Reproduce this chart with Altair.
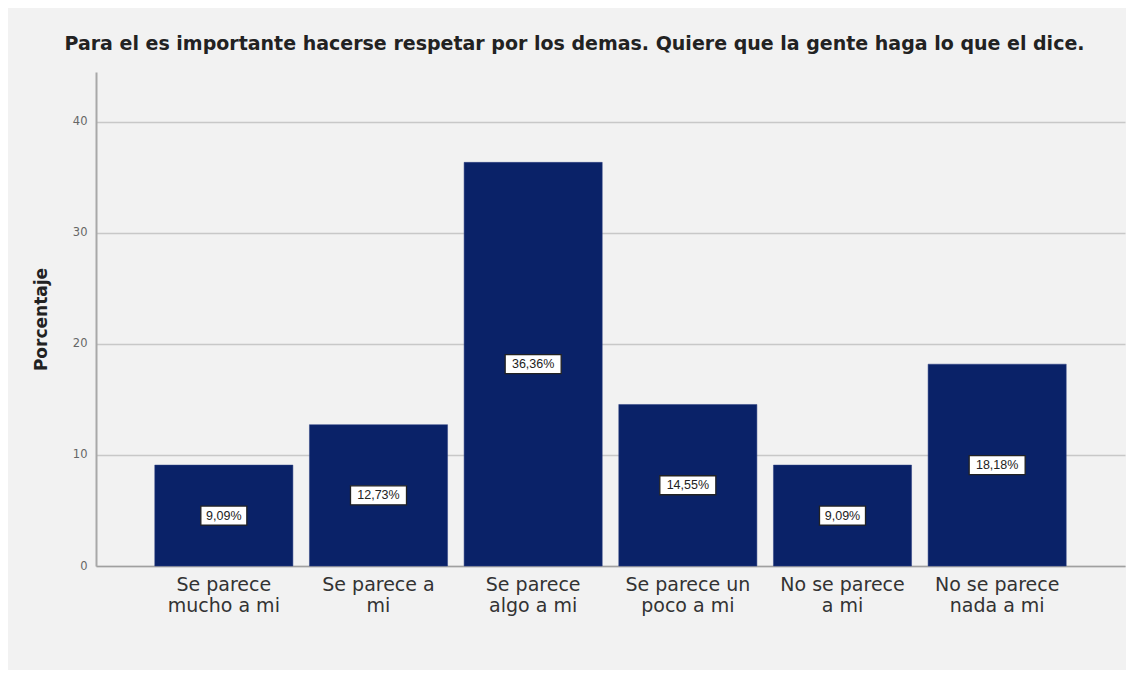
import altair as alt
import pandas as pd

categories = [
    "Se parece\nmucho a mi",
    "Se parece a\nmi",
    "Se parece\nalgo a mi",
    "Se parece un\npoco a mi",
    "No se parece\na mi",
    "No se parece\nnada a mi",
]
percentages = [9.09, 12.73, 36.36, 14.55, 9.09, 18.18]
labels = ["9,09%", "12,73%", "36,36%", "14,55%", "9,09%", "18,18%"]
y_ticks = [0, 10, 20, 30, 40]

title_text = "Para el es importante hacerse respetar por los demas. Quiere que la gente haga lo que el dice."

df = pd.DataFrame({"cat": categories, "pct": percentages, "lab": labels})

x_enc = alt.X(
    "cat:N",
    sort=categories,
    scale=alt.Scale(paddingInner=0.107, paddingOuter=0.38),
    axis=alt.Axis(
        title=None,
        labelExpr="split(datum.label, '\\n')",
        labelAngle=0,
        labelFont="DejaVu Sans",
        labelFontSize=19,
        labelLineHeight=21,
        labelColor="#333333",
        labelPadding=9,
        ticks=False,
        domainColor="#a0a0a0",
        domainWidth=1.5,
        grid=False,
        labelLimit=300,
    ),
)

y_scale = alt.Scale(domain=[0, 44.5], nice=False)

bars = alt.Chart(df).mark_bar(color="#0a2268", stroke="#2a3f80", strokeWidth=0.5).encode(
    x=x_enc,
    y=alt.Y(
        "pct:Q",
        scale=y_scale,
        axis=alt.Axis(
            title="Porcentaje",
            values=y_ticks,
            titleFont="DejaVu Sans",
            titleFontSize=17,
            titleFontWeight="bold",
            titleColor="#222222",
            titlePadding=22,
            labelFont="DejaVu Sans",
            labelFontSize=11.5,
            labelColor="#666666",
            labelPadding=9,
            ticks=False,
            domainColor="#a8a8a8",
            domainWidth=2,
            gridColor="#c8c8c8",
            gridWidth=1.5,
        ),
    ),
)

boxes = alt.Chart(df).transform_calculate(
    mid="datum.pct / 2",
    shp="'M' + (-(length(datum.lab) * 5 - 2)) + ',-9.5L' + (length(datum.lab) * 5 - 2) + ',-9.5L' + (length(datum.lab) * 5 - 2) + ',9.5L' + (-(length(datum.lab) * 5 - 2)) + ',9.5Z'",
).mark_point(
    filled=True, fill="white", stroke="#222222", strokeWidth=1.3, opacity=1, size=4
).encode(
    x=alt.X("cat:N", sort=categories),
    y=alt.Y("mid:Q", scale=y_scale),
    shape=alt.Shape("shp:N", scale=None),
)

texts = alt.Chart(df).transform_calculate(mid="datum.pct / 2").mark_text(
    font="Liberation Sans", fontSize=12.5, color="#222222", baseline="middle", align="center"
).encode(
    x=alt.X("cat:N", sort=categories),
    y=alt.Y("mid:Q", scale=y_scale),
    text="lab:N",
)

chart = alt.layer(bars, boxes, texts).properties(
    width=1029,
    height=494,
    autosize=alt.AutoSizeParams(type="none"),
    padding={"left": 88, "top": 64, "right": 1, "bottom": 104},
    background="#f2f2f2",
    title=alt.Title(
        title_text,
        font="DejaVu Sans",
        fontSize=19,
        fontWeight="bold",
        color="#222222",
        anchor="middle",
        dx=-36,
        offset=18,
    ),
).configure_view(stroke=None)

chart.save("out.html", embed_options={"renderer": "svg", "actions": False})
